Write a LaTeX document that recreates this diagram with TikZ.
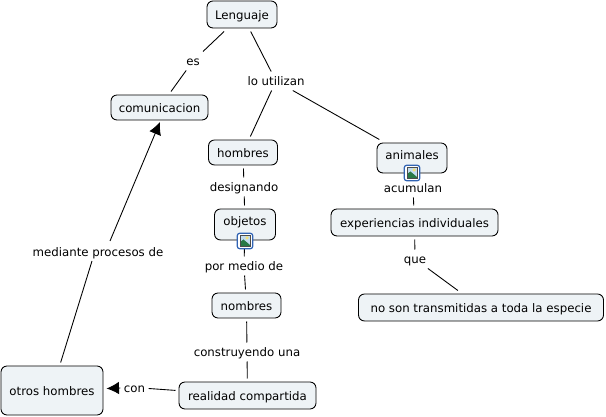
\documentclass[tikz,border=0pt]{standalone}
\usepackage{fontspec}
\setmainfont{DejaVu Sans}
\usetikzlibrary{arrows.meta}
\definecolor{concept}{RGB}{238,243,246}
\definecolor{iconblue}{RGB}{50,100,180}
\definecolor{iconsky}{RGB}{195,220,240}
\definecolor{icongreen}{RGB}{40,120,70}
\definecolor{iconsun}{RGB}{245,225,120}

\tikzset{
  concepto/.style={draw, fill=concept, rounded corners=0.12cm, line width=0.5pt,
                   outer sep=0.07cm, inner sep=0pt, text height=0.22cm, text depth=0.02cm},
  enlace/.style={fill=white, inner sep=0.04cm, outer sep=0.03cm,
                 text height=0.22cm, text depth=0.02cm},
  linea/.style={line width=0.5pt},
  flecha/.style={line width=0.5pt, -{Latex[length=0.25cm,width=0.25cm]}}
}

\newcommand{\imagen}[1]{%
  \node[draw=iconblue, fill=white, rounded corners=0.05cm, line width=0.7pt,
        minimum size=0.31cm, inner sep=0pt] at (#1) {};
  \begin{scope}[shift={(#1)}]
    \fill[iconsky] (-0.1,-0.11) rectangle (0.1,0.11);
    \fill[iconsun] (0.04,0.06) circle (0.035);
    \fill[icongreen] (-0.1,-0.11) -- (-0.1,-0.02) -- (-0.03,0.03) -- (0.1,-0.08) -- (0.1,-0.11) -- cycle;
    \draw[black!70, line width=0.2pt] (-0.1,-0.11) rectangle (0.1,0.11);
  \end{scope}
}

\begin{document}
\begin{tikzpicture}[font=\fontsize{6.7}{8}\selectfont, >=Latex]
\useasboundingbox (0,0) rectangle (12.12,8.34);

% Conceptos
\node[concepto, minimum width=1.4cm, minimum height=0.54cm] (lenguaje) at (4.84,8.05) {Lenguaje};
\node[concepto, minimum width=1.94cm, minimum height=0.5cm] (comunicacion) at (3.19,6.19) {comunicacion};
\node[concepto, minimum width=1.38cm, minimum height=0.5cm] (hombres) at (4.86,5.29) {hombres};
\node[concepto, minimum width=1.4cm, minimum height=0.6cm, text depth=0.17cm] (animales) at (8.24,5.18) {animales};
\node[concepto, minimum width=1.22cm, minimum height=0.62cm, text depth=0.19cm] (objetos) at (4.90,3.85) {objetos};
\node[concepto, minimum width=3.34cm, minimum height=0.54cm] (experiencias) at (8.29,3.89) {experiencias individuales};
\node[concepto, minimum width=4.9cm, minimum height=0.54cm] (noson) at (9.62,2.19) {no son transmitidas a toda la especie};
\node[concepto, minimum width=1.38cm, minimum height=0.5cm] (nombres) at (4.93,2.23) {nombres};
\node[concepto, minimum width=2.74cm, minimum height=0.54cm] (realidad) at (4.95,0.43) {realidad compartida};
\node[concepto, minimum width=2.04cm, minimum height=0.98cm] (otros) at (1.04,0.53) {otros hombres};

% Enlaces
\node[enlace] (es) at (3.86,7.12) {es};
\node[enlace] (utilizan) at (5.52,6.72) {lo utilizan};
\node[enlace] (designando) at (4.88,4.60) {designando};
\node[enlace] (acumulan) at (8.26,4.58) {acumulan};
\node[enlace] (que) at (8.30,3.16) {que};
\node[enlace] (medio) at (4.88,3.02) {por medio de};
\node[enlace] (construyendo) at (4.94,1.30) {construyendo una};
\node[enlace] (mediante) at (1.96,3.30) {mediante procesos de};
\node[enlace] (con) at (2.69,0.59) {con};

% Puntos libres de la flecha larga
\coordinate (bajada) at (1.84,3.12);
\coordinate (subida) at (2.20,3.52);
\coordinate (punta) at (3.20,5.90);

% Lineas
\foreach \a/\b in {lenguaje/es, es/comunicacion, lenguaje/utilizan, utilizan/hombres,
                   utilizan/animales, hombres/designando, designando/objetos,
                   objetos/medio, medio/nombres, nombres/construyendo,
                   construyendo/realidad, animales/acumulan, acumulan/experiencias,
                   experiencias/que, que/noson, otros/bajada, realidad/con}
  \draw[linea] (\a) -- (\b);

% Flechas
\draw[flecha] (subida) -- (punta);
\draw[flecha] (con) -- (otros);

% Iconos
\imagen{4.90,3.52}
\imagen{8.24,4.88}

\end{tikzpicture}
\end{document}
